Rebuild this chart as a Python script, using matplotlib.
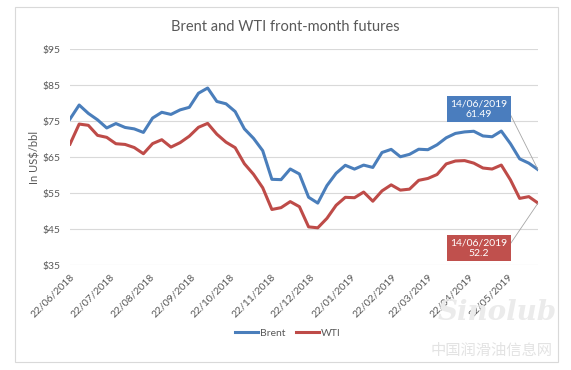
import matplotlib
matplotlib.use("Agg")
import matplotlib.pyplot as plt
import matplotlib.dates as mdates
import numpy as np
import pandas as pd
from matplotlib.patches import Rectangle

# weekly front-month settlements
dates = pd.date_range("2018-06-22", "2019-06-14", freq="7D")
brent = [75.55, 79.44, 77.11, 75.33, 73.07, 74.29, 73.21, 72.81, 71.83, 75.82,
         77.42, 76.83, 78.09, 78.80, 82.72, 84.16, 80.43, 79.78, 77.62, 72.83,
         70.18, 66.76, 58.80, 58.71, 61.67, 60.28, 53.82, 52.20, 57.06, 60.48,
         62.70, 61.64, 62.75, 62.10, 66.25, 67.12, 65.07, 65.74, 67.16, 67.03,
         68.39, 70.34, 71.55, 71.97, 72.15, 70.85, 70.62, 72.21, 68.69, 64.49,
         63.29, 61.49]
wti = [68.58, 74.15, 73.80, 71.01, 70.46, 68.69, 68.49, 67.63, 65.91, 68.72,
       69.80, 67.75, 68.99, 70.78, 73.25, 74.34, 71.34, 69.12, 67.59, 63.14,
       60.19, 56.46, 50.42, 50.93, 52.61, 51.20, 45.59, 45.33, 47.96, 51.59,
       53.80, 53.69, 55.26, 52.72, 55.59, 57.26, 55.80, 56.07, 58.52, 59.04,
       60.14, 63.08, 63.89, 64.00, 63.30, 61.94, 61.66, 62.76, 58.63, 53.50,
       53.99, 52.20]
tick_dates = pd.date_range("2018-06-01", "2019-05-01", freq="MS") + pd.Timedelta(days=21)
y_ticks = [35, 45, 55, 65, 75, 85, 95]

blue = "#4A7EBB"
red = "#BE4B48"
grey = "#595959"

plt.rcParams["font.family"] = ["Lato", "DejaVu Sans"]

fig = plt.figure(figsize=(5.71, 3.70), dpi=100)
# chart area border
fig.patches.append(Rectangle((15 / 571, 1 - 362 / 370), 543 / 571, 355 / 370,
                             transform=fig.transFigure, fill=False,
                             edgecolor="#D9D9D9", linewidth=0.8))

ax = fig.add_axes([70 / 571, 1 - 265 / 370, 468 / 571, 216 / 370])
ax.plot(dates, brent, color=blue, linewidth=2.2, label="Brent", solid_joinstyle="round")
ax.plot(dates, wti, color=red, linewidth=2.2, label="WTI", solid_joinstyle="round")

ax.set_xlim(dates[0], dates[-1])
ax.set_ylim(35, 95)
ax.set_yticks(y_ticks)
ax.set_yticklabels(["${}".format(v) for v in y_ticks])
ax.set_xticks(tick_dates)
ax.xaxis.set_major_formatter(mdates.DateFormatter("%d/%m/%Y"))
for lbl in ax.get_xticklabels():
    lbl.set_rotation(45)
    lbl.set_ha("right")
    lbl.set_rotation_mode("anchor")
ax.tick_params(axis="both", length=0, labelsize=7.5, colors=grey)
ax.tick_params(axis="y", pad=7)
ax.tick_params(axis="x", pad=5)
ax.grid(axis="y", color="#D9D9D9", linewidth=0.8)
ax.set_axisbelow(True)
for s in ax.spines.values():
    s.set_visible(False)
ax.set_ylabel("In US$/bbl", fontsize=8, color=grey, labelpad=1)

fig.text(0.50, 1 - 27 / 370, "Brent and WTI front-month futures",
         ha="center", va="center", fontsize=10.5, color=grey)

# end-point data labels
last = dates[-1]
ax.annotate("{}\n{}".format(last.strftime("%d/%m/%Y"), brent[-1]),
            xy=(last, brent[-1]), xytext=(479, 370 - 109), textcoords="figure pixels",
            ha="center", va="center", fontsize=7.5, color="white", linespacing=1.2,
            bbox=dict(boxstyle="square,pad=0.3", fc="#4A7DBE", ec="none"),
            arrowprops=dict(arrowstyle="-", color="#A6A6A6", lw=0.6,
                            relpos=(1, 0.5), shrinkA=0, shrinkB=0))
ax.annotate("{}\n{}".format(last.strftime("%d/%m/%Y"), wti[-1]),
            xy=(last, wti[-1]), xytext=(479, 370 - 248), textcoords="figure pixels",
            ha="center", va="center", fontsize=7.5, color="white", linespacing=1.2,
            bbox=dict(boxstyle="square,pad=0.3", fc="#C0504D", ec="none"),
            arrowprops=dict(arrowstyle="-", color="#A6A6A6", lw=0.6,
                            relpos=(1, 0.5), shrinkA=0, shrinkB=0))

fig.legend(loc="center", bbox_to_anchor=(288 / 571, 1 - 333 / 370), ncol=2,
           frameon=False, fontsize=7.5, handlelength=2.2, handletextpad=0.2,
           columnspacing=1.0, labelcolor=grey)

# faint site watermark
fig.text(497 / 571, 1 - 312 / 370, "Sinolub", ha="center", va="center",
         fontsize=20, style="italic", fontweight="bold", color="#EBEBEB",
         family=["DejaVu Serif"])
fig.text(492 / 571, 1 - 350 / 370, "中国润滑油信息网", ha="center", va="center",
         fontsize=11, color="#E3E3E3", family=["Noto Sans CJK SC", "DejaVu Sans"])

fig.savefig("out.png", dpi=100)
